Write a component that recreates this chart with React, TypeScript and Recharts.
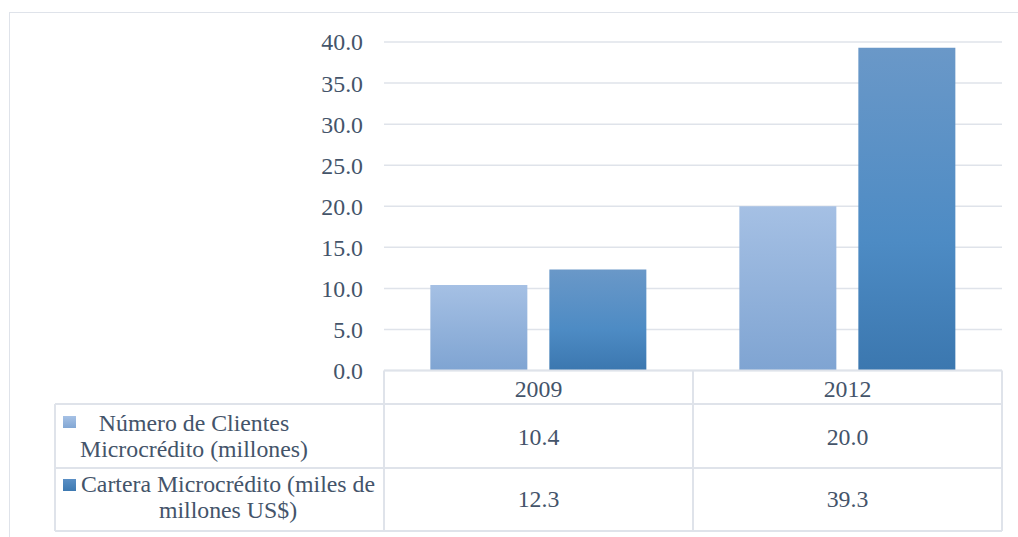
import { BarChart, Bar, XAxis, YAxis, CartesianGrid } from "recharts";

const years = ["2009", "2012"];
const clientes = [10.4, 20.0];
const cartera = [12.3, 39.3];
const yTicks = [0, 5, 10, 15, 20, 25, 30, 35, 40];

const seriesNames = [
  ["Número de Clientes", "Microcrédito (millones)"],
  ["Cartera Microcrédito (miles de", "millones US$)"],
];

const data = years.map((y, i) => ({ year: y, clientes: clientes[i], cartera: cartera[i] }));

const W = 1018;
const H = 537;
const PLOT_L = 384;
const PLOT_R = 1002;
const PLOT_T = 42;
const PLOT_B = 370.5;
const ROW1 = 404;
const ROW2 = 468;
const ROW3 = 531;
const LEG_L = 55;

const TEXT = "#44546A";
const LINE = "#DFE3EA";
const FONT = "'Liberation Serif', 'Times New Roman', serif";
const txt = { fontFamily: FONT, fontSize: 23.8, fill: TEXT };

// one data-table column per category, drawn from the x axis tick
function TableTick(props: any) {
  const { x, index } = props;
  const colW = (PLOT_R - PLOT_L) / years.length;
  const left = x - colW / 2;
  const vals = [clientes[index], cartera[index]];
  return (
    <g>
      <line x1={left + colW} y1={PLOT_B} x2={left + colW} y2={ROW3} stroke={LINE} strokeWidth={2} />
      <text x={x} y={397} textAnchor="middle" style={txt}>{years[index]}</text>
      <text x={x} y={444.5} textAnchor="middle" style={txt}>{vals[0].toFixed(1)}</text>
      <text x={x} y={507} textAnchor="middle" style={txt}>{vals[1].toFixed(1)}</text>
    </g>
  );
}

function TableFrame() {
  return (
    <svg width={W} height={H} style={{ position: "absolute", left: 0, top: 0, pointerEvents: "none" }}>
      <defs>
        <linearGradient id="lk1" x1="0" y1="0" x2="0" y2="1">
          <stop offset="0" stopColor="#A6C1E5" />
          <stop offset="1" stopColor="#82A7D4" />
        </linearGradient>
        <linearGradient id="lk2" x1="0" y1="0" x2="0" y2="1">
          <stop offset="0" stopColor="#5A8FC5" />
          <stop offset="1" stopColor="#3D79B1" />
        </linearGradient>
      </defs>
      <g stroke={LINE} strokeWidth={2}>
        <line x1={PLOT_L} y1={PLOT_B} x2={PLOT_R} y2={PLOT_B} />
        <line x1={PLOT_L} y1={PLOT_B} x2={PLOT_L} y2={ROW3} />
        <line x1={LEG_L} y1={ROW1} x2={PLOT_R} y2={ROW1} />
        <line x1={LEG_L} y1={ROW2} x2={PLOT_R} y2={ROW2} />
        <line x1={LEG_L} y1={ROW3} x2={PLOT_R} y2={ROW3} />
        <line x1={LEG_L} y1={ROW1} x2={LEG_L} y2={ROW3} />
      </g>
      <rect x={63} y={416} width={13} height={12} fill="url(#lk1)" />
      <rect x={63} y={479} width={13} height={12} fill="url(#lk2)" />
      <g textAnchor="middle">
        <text x={194} y={431} style={txt}>{seriesNames[0][0]}</text>
        <text x={194} y={457} style={txt}>{seriesNames[0][1]}</text>
        <text x={228} y={492} style={txt}>{seriesNames[1][0]}</text>
        <text x={228} y={518} style={txt}>{seriesNames[1][1]}</text>
      </g>
    </svg>
  );
}

export default function App() {
  return (
    <div style={{ position: "relative", width: W, height: H, background: "#fff" }}>
      <style>{"body{margin:0}"}</style>
      <div
        style={{
          position: "absolute",
          left: 9,
          top: 12,
          width: W + 20,
          height: H + 20,
          borderLeft: `1.5px solid ${LINE}`,
          borderTop: `1.5px solid ${LINE}`,
        }}
      />
      <div style={{ position: "absolute", left: 0, top: 0 }}>
        <BarChart
          width={W}
          height={H}
          data={data}
          margin={{ top: PLOT_T, right: W - PLOT_R, bottom: H - ROW3, left: 0 }}
          barCategoryGap="15%"
          barGap={22}
        >
          <defs>
            <linearGradient id="g1" x1="0" y1="0" x2="0" y2="1">
              <stop offset="0" stopColor="#A5C0E4" />
              <stop offset="1" stopColor="#7FA4D2" />
            </linearGradient>
            <linearGradient id="g2" x1="0" y1="0" x2="0" y2="1">
              <stop offset="0" stopColor="#6A98C8" />
              <stop offset="0.6" stopColor="#4D8BC4" />
              <stop offset="1" stopColor="#3B77AF" />
            </linearGradient>
          </defs>
          <CartesianGrid vertical={false} stroke={LINE} strokeWidth={1.5} />
          <YAxis
            width={PLOT_L}
            domain={[0, 40]}
            ticks={yTicks}
            tickFormatter={(v: number) => v.toFixed(1)}
            axisLine={false}
            tickLine={false}
            tickMargin={15}
            tick={{ style: txt, fontSize: 23.8, fill: TEXT }}
          />
          <XAxis
            dataKey="year"
            height={ROW3 - PLOT_B}
            axisLine={false}
            tickLine={false}
            tick={<TableTick />}
            interval={0}
          />
          <Bar dataKey="clientes" fill="url(#g1)" isAnimationActive={false} />
          <Bar dataKey="cartera" fill="url(#g2)" isAnimationActive={false} />
        </BarChart>
      </div>
      <TableFrame />
    </div>
  );
}
